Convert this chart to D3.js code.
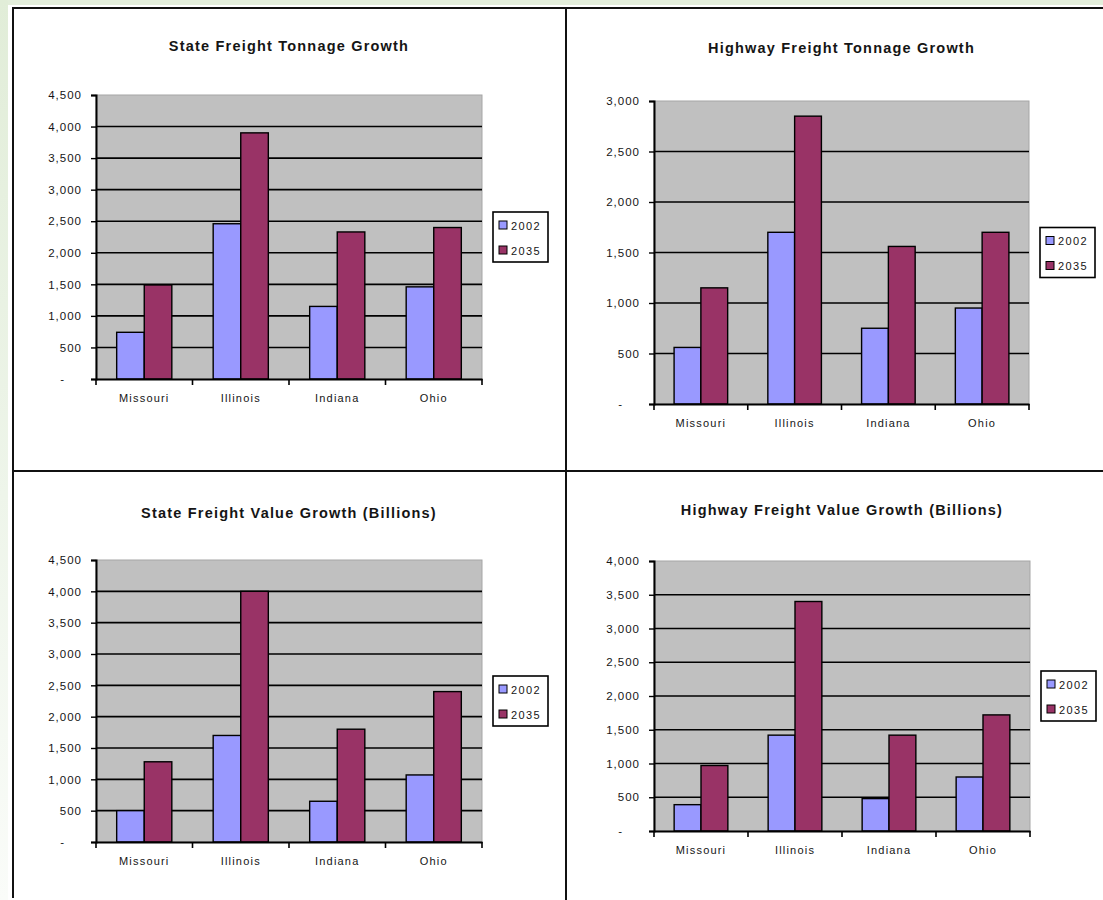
<!DOCTYPE html>
<html>
<head>
<meta charset="utf-8">
<script src="https://cdn.jsdelivr.net/npm/d3@7"></script>
<style>
  html, body { margin: 0; padding: 0; background: #fff; }
  svg { display: block; font-family: "Liberation Sans", Arial, sans-serif; }
</style>
</head>
<body>
<svg id="page" width="1103" height="900"></svg>
<script>
// ---- data ----
const categories = ["Missouri", "Illinois", "Indiana", "Ohio"];
const seriesNames = ["2002", "2035"];

const stateTonnage2002 = [740, 2460, 1150, 1460];
const stateTonnage2035 = [1490, 3900, 2330, 2400];

const highwayTonnage2002 = [560, 1700, 750, 950];
const highwayTonnage2035 = [1150, 2850, 1560, 1700];

const stateValue2002 = [500, 1700, 650, 1070];
const stateValue2035 = [1280, 4000, 1800, 2400];

const highwayValue2002 = [390, 1420, 480, 800];
const highwayValue2035 = [970, 3400, 1420, 1720];

const ticks4500 = [0, 500, 1000, 1500, 2000, 2500, 3000, 3500, 4000, 4500];
const tickLabels4500 = ["-", "500", "1,000", "1,500", "2,000", "2,500", "3,000", "3,500", "4,000", "4,500"];
const ticks3000 = [0, 500, 1000, 1500, 2000, 2500, 3000];
const tickLabels3000 = ["-", "500", "1,000", "1,500", "2,000", "2,500", "3,000"];
const ticks4000 = [0, 500, 1000, 1500, 2000, 2500, 3000, 3500, 4000];
const tickLabels4000 = ["-", "500", "1,000", "1,500", "2,000", "2,500", "3,000", "3,500", "4,000"];

const colors = { "2002": "#9999ff", "2035": "#993366" };

// ---- panel layout ----
const panels = [
  { title: "State Freight Tonnage Growth", a: stateTonnage2002, b: stateTonnage2035,
    ticks: ticks4500, labels: tickLabels4500, left: 96, right: 482, top: 95, bottom: 379, titleY: 46 },
  { title: "Highway Freight Tonnage Growth", a: highwayTonnage2002, b: highwayTonnage2035,
    ticks: ticks3000, labels: tickLabels3000, left: 654, right: 1029, top: 101, bottom: 404, titleY: 48 },
  { title: "State Freight Value Growth (Billions)", a: stateValue2002, b: stateValue2035,
    ticks: ticks4500, labels: tickLabels4500, left: 96, right: 482, top: 560, bottom: 842, titleY: 513 },
  { title: "Highway Freight Value Growth (Billions)", a: highwayValue2002, b: highwayValue2035,
    ticks: ticks4000, labels: tickLabels4000, left: 654, right: 1030, top: 561, bottom: 831, titleY: 510 }
];

const svg = d3.select("#page");
const FONT = "'Liberation Sans', Arial, sans-serif";
const INK = "#151515";

// ---- page frame ----
const defs = svg.append("defs");
const grad = defs.append("linearGradient").attr("id", "strip").attr("x1", 0).attr("y1", 0).attr("x2", 0).attr("y2", 1);
grad.append("stop").attr("offset", "0%").attr("stop-color", "#e1edd8");
grad.append("stop").attr("offset", "55%").attr("stop-color", "#eef5ea");
grad.append("stop").attr("offset", "100%").attr("stop-color", "#fafcf9");

svg.append("rect").attr("x", 0).attr("y", 0).attr("width", 1103).attr("height", 900).attr("fill", "#fff");
svg.append("rect").attr("x", 0).attr("y", 0).attr("width", 1103).attr("height", 5).attr("fill", "#e3eedb");
svg.append("rect").attr("x", 0).attr("y", 0).attr("width", 8).attr("height", 900).attr("fill", "url(#strip)");

const frame = svg.append("g").attr("stroke", "#111").attr("stroke-width", 2).attr("fill", "none");
frame.append("line").attr("x1", 12).attr("x2", 1103).attr("y1", 8).attr("y2", 8);
frame.append("line").attr("x1", 13).attr("x2", 13).attr("y1", 7).attr("y2", 898);
frame.append("line").attr("x1", 566).attr("x2", 566).attr("y1", 7).attr("y2", 900);
frame.append("line").attr("x1", 12).attr("x2", 1103).attr("y1", 471).attr("y2", 471);

// ---- charts ----
panels.forEach(p => {
  const g = svg.append("g");
  const yMax = p.ticks[p.ticks.length - 1];

  const x0 = d3.scaleBand().domain(categories).range([p.left, p.right]).padding(0);
  const x1 = d3.scaleBand().domain(seriesNames).range([0, x0.bandwidth()])
    .paddingInner(0).paddingOuter(0.75);
  const y = d3.scaleLinear().domain([0, yMax]).range([p.bottom, p.top]);

  // plot background
  g.append("rect")
    .attr("x", p.left).attr("y", p.top)
    .attr("width", p.right - p.left).attr("height", p.bottom - p.top)
    .attr("fill", "#c0c0c0").attr("stroke", "#a6a6a6").attr("stroke-width", 1);

  // gridlines
  g.append("g").selectAll("line")
    .data(p.ticks.filter(t => t > 0 && t < yMax))
    .join("line")
    .attr("x1", p.left).attr("x2", p.right)
    .attr("y1", d => y(d)).attr("y2", d => y(d))
    .attr("stroke", "#000").attr("stroke-width", 1.6);

  // bars
  const rows = categories.map((c, i) => ({ cat: c, vals: [
    { key: "2002", v: p.a[i] }, { key: "2035", v: p.b[i] }
  ]}));
  g.append("g").selectAll("g")
    .data(rows).join("g")
    .attr("transform", d => `translate(${x0(d.cat)},0)`)
    .selectAll("rect")
    .data(d => d.vals).join("rect")
    .attr("x", d => x1(d.key)).attr("width", x1.bandwidth())
    .attr("y", d => y(d.v)).attr("height", d => y(0) - y(d.v))
    .attr("fill", d => colors[d.key])
    .attr("stroke", "#000").attr("stroke-width", 1.4);

  // y axis
  const yAxis = g.append("g").attr("transform", `translate(${p.left},0)`)
    .call(d3.axisLeft(y).tickValues(p.ticks).tickSize(5).tickPadding(9)
      .tickFormat((d, i) => p.labels[i]));
  yAxis.select(".domain").attr("stroke", "#000").attr("stroke-width", 2);
  yAxis.selectAll(".tick line").attr("stroke", "#000").attr("stroke-width", 1.4);
  yAxis.selectAll(".tick text")
    .attr("font-family", FONT)
    .attr("font-size", 11.5).attr("letter-spacing", 1).attr("fill", INK)
    .attr("dx", d => d === 0 ? -17 : 0);

  // x axis
  const xAxis = g.append("g").attr("transform", `translate(0,${p.bottom})`)
    .call(d3.axisBottom(x0).tickSize(0).tickPadding(15));
  xAxis.select(".domain").attr("stroke", "#000").attr("stroke-width", 2);
  xAxis.selectAll(".tick text")
    .attr("font-family", FONT)
    .attr("font-size", 11).attr("letter-spacing", 1.2).attr("fill", INK);
  // category separators below the axis
  g.append("g").selectAll("line")
    .data(categories.concat(["__end"]))
    .join("line")
    .attr("x1", (d, i) => i < categories.length ? x0(d) : p.right)
    .attr("x2", (d, i) => i < categories.length ? x0(d) : p.right)
    .attr("y1", p.bottom).attr("y2", p.bottom + 6)
    .attr("stroke", "#000").attr("stroke-width", 1.6);

  // title
  g.append("text")
    .attr("x", (p.left + p.right) / 2).attr("y", p.titleY + 5)
    .attr("text-anchor", "middle")
    .attr("font-family", FONT)
    .attr("font-size", 14.5).attr("font-weight", "bold").attr("letter-spacing", 1.2)
    .attr("fill", INK)
    .text(p.title);

  // legend
  const lw = 55, lh = 50;
  const lx = p.right + 11, ly = (p.top + p.bottom) / 2 - lh / 2;
  const lg = g.append("g").attr("transform", `translate(${lx},${ly})`);
  lg.append("rect").attr("width", lw).attr("height", lh)
    .attr("fill", "#fff").attr("stroke", "#000").attr("stroke-width", 1.6);
  const items = lg.selectAll("g").data(seriesNames).join("g")
    .attr("transform", (d, i) => `translate(6,${9 + i * 25})`);
  items.append("rect").attr("width", 8).attr("height", 8)
    .attr("fill", d => colors[d]).attr("stroke", "#000").attr("stroke-width", 1);
  items.append("text").attr("x", 12).attr("y", 8.5)
    .attr("font-family", FONT)
    .attr("font-size", 11).attr("letter-spacing", 1.4).attr("fill", INK)
    .text(d => d);
});
</script>
</body>
</html>
